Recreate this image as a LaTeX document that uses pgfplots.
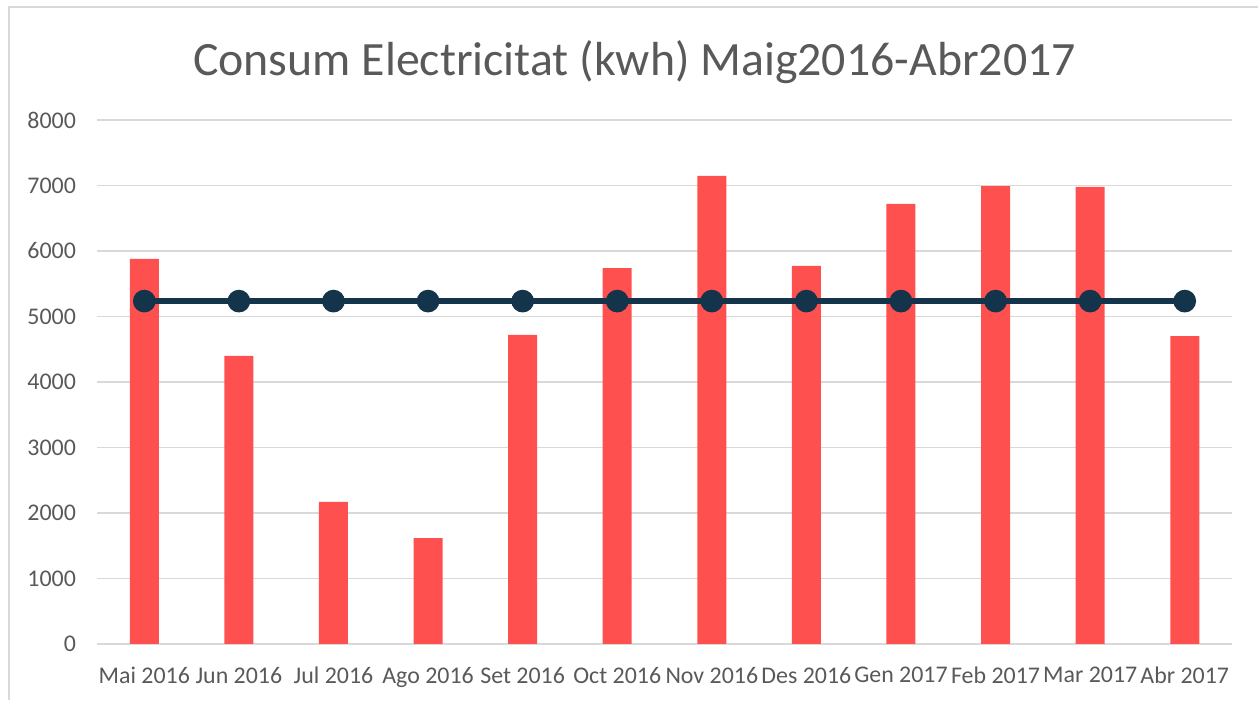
\documentclass[border=0pt]{standalone}
\usepackage{fontspec}
\setmainfont{Carlito}
\usepackage{pgfplots}
\pgfplotsset{compat=1.18}
\definecolor{barred}{HTML}{FF5050}
\definecolor{linenavy}{HTML}{13344A}
\definecolor{txtgray}{HTML}{595959}
\definecolor{gridgray}{HTML}{D9D9D9}
\begin{document}
\begin{tikzpicture}[x=0.5bp,y=0.5bp]
\useasboundingbox (0,0) rectangle (1258,700);
\draw[color=gridgray, line width=1.2bp] (9,0) -- (9,693) -- (1258,693);
\node[text=txtgray, font=\fontsize{24}{28}\selectfont] at (634.5,638) {Consum Electricitat (kwh) Maig2016-Abr2017};
\begin{axis}[
  at={(48.5bp,28bp)}, anchor=south west,
  scale only axis, width=567.5bp, height=262bp,
  xmin=-0.5, xmax=11.5, ymin=0, ymax=8000,
  xtick=data,
  xticklabels={Mai 2016,Jun 2016,Jul 2016,Ago 2016,Set 2016,Oct 2016,Nov 2016,Des 2016,Gen 2017,Feb 2017,Mar 2017,Abr 2017},
  ytick={0,1000,...,8000},
  ymajorgrids, grid style={color=gridgray, line width=0.75bp},
  axis line style={draw=none},
  major tick length=0pt,
  tick label style={text=txtgray, font=\fontsize{12}{14}\selectfont},
  /pgf/number format/assume math mode=true,
  /pgf/number format/1000 sep={},
  yticklabel style={xshift=-7bp},
  xticklabel style={yshift=-8bp},
  clip=false,
]
\addplot[ybar, bar width=14.5bp, fill=barred, draw=none] coordinates {
(0,5878) (1,4397) (2,2168) (3,1618) (4,4718) (5,5740) (6,7145) (7,5771) (8,6718) (9,6992) (10,6977) (11,4702)};
\addplot[color=linenavy, line width=3.3bp, mark=*, mark size=4bp, mark options={fill=linenavy, draw=none}] coordinates {
(0,5235) (1,5235) (2,5235) (3,5235) (4,5235) (5,5235) (6,5235) (7,5235) (8,5235) (9,5235) (10,5235) (11,5235)};
\end{axis}
\end{tikzpicture}
\end{document}
